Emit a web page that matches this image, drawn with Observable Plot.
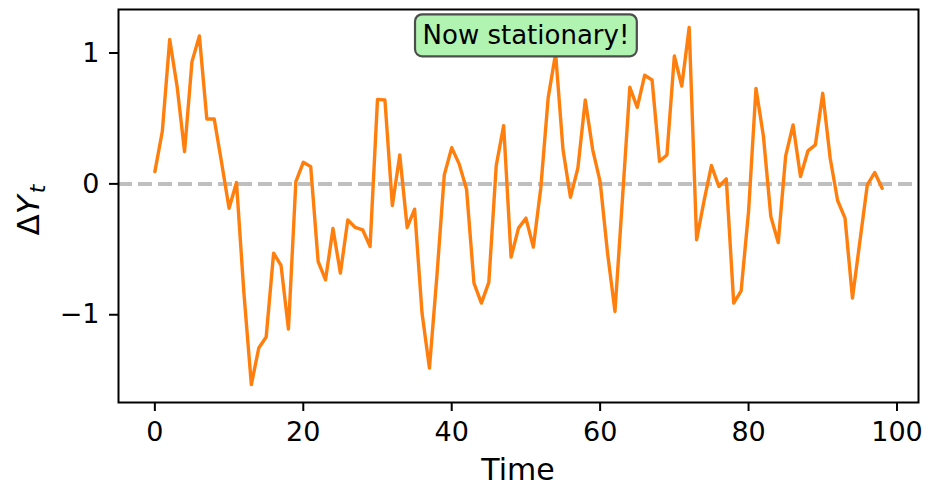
<!DOCTYPE html>
<html><head><meta charset="utf-8">
<script src="https://cdn.jsdelivr.net/npm/d3@7"></script>
<script src="https://cdn.jsdelivr.net/npm/@observablehq/plot@0.6"></script>
<style>body{margin:0;background:#fff;}</style>
</head><body><div id="chart"></div>
<script>
const values = [0.094,0.40,1.104,0.743,0.247,0.934,1.13,0.496,0.496,0.16,
-0.186,0.01,-0.835,-1.534,-1.254,-1.17,-0.529,-0.623,-1.109,0.018,
0.165,0.132,-0.593,-0.733,-0.341,-0.682,-0.275,-0.333,-0.351,-0.478,
0.646,0.641,-0.165,0.221,-0.333,-0.193,-0.987,-1.407,-0.707,0.069,
0.277,0.153,-0.041,-0.758,-0.911,-0.753,0.14,0.445,-0.56,-0.338,
-0.262,-0.483,-0.033,0.659,0.997,0.26,-0.102,0.12,0.641,0.26,
0.018,-0.529,-0.975,-0.12,0.738,0.585,0.83,0.794,0.173,0.221,
0.977,0.748,1.196,-0.427,-0.13,0.14,-0.02,0.038,-0.911,-0.817,
-0.211,0.730,0.366,-0.249,-0.448,0.214,0.45,0.056,0.252,0.298,
0.692,0.196,-0.127,-0.262,-0.873,-0.44,-0.008,0.087,-0.033];
const time = values.map((_, i) => i);
const xTicks = [0, 20, 40, 60, 80, 100];
const yTicks = [-1, 0, 1];
const annotationText = "Now stationary!";
const annotationX = 50;
const annotationY = 1.13;
const xLabel = "Time";

const data = time.map((t, i) => ({t, v: values[i]}));
const ye = d3.extent(values), yp = (ye[1] - ye[0]) * 0.05;
const xe = d3.extent(time), xp = (xe[1] - xe[0]) * 0.05;

const chart = Plot.plot({
  width: 928, height: 487,
  marginLeft: 118, marginRight: 10, marginTop: 9, marginBottom: 85,
  style: {fontFamily: "DejaVu Sans", background: "white", overflow: "visible"},
  x: {domain: [xe[0] - xp, xe[1] + xp]},
  y: {domain: [ye[0] - yp, ye[1] + yp]},
  marks: [
    Plot.ruleY([0], {stroke: "#bfbfbf", strokeWidth: 4, strokeDasharray: "14,6"}),
    Plot.line(data, {x: "t", y: "v", stroke: "#ff7f0e", strokeWidth: 3.4, strokeLinejoin: "round"}),
    Plot.axisX({ticks: xTicks, tickFormat: "~f", tickSize: 9, tickPadding: 10, fontSize: 27, strokeWidth: 2, label: null}),
    Plot.axisY({ticks: yTicks, tickFormat: "~f", tickSize: 9, tickPadding: 10, fontSize: 27, strokeWidth: 2, label: null}),
    Plot.frame({stroke: "black", strokeWidth: 2}),
    Plot.text([{x: annotationX, y: annotationY, label: annotationText}],
      {x: "x", y: "y", text: "label", fontSize: 26, fill: "black", lineAnchor: "middle"})
  ]
});
document.getElementById("chart").appendChild(chart);

const svg = d3.select(chart);
// annotation box
const tg = svg.selectAll('g[aria-label="text"]').filter(function(){ return d3.select(this).text() === annotationText; });
const tn = tg.select("text").node();
const sr = chart.getBoundingClientRect();
const br = tn.getBoundingClientRect();
const px = 7.5, py = 6;
svg.insert("rect", () => tg.node())
  .attr("x", br.left - sr.left - px)
  .attr("y", br.top - sr.top - py)
  .attr("width", br.width + 2 * px)
  .attr("height", br.height + 2 * py)
  .attr("rx", 7).attr("ry", 7)
  .attr("fill", "#b1f3b1")
  .attr("stroke", "#4d4d4d")
  .attr("stroke-width", 2.2);

// x label
svg.append("text").attr("x", 518).attr("y", 480).attr("text-anchor", "middle")
  .attr("font-family", "DejaVu Sans").attr("font-size", 30).attr("fill", "black").text(xLabel);
// y label
const yl = svg.append("text").attr("transform", "translate(39,210) rotate(-90)")
  .attr("text-anchor", "middle").attr("font-family", "DejaVu Sans").attr("font-size", 31).attr("fill", "black");
yl.append("tspan").text("Δ");
yl.append("tspan").attr("font-style", "italic").text("Y");
yl.append("tspan").attr("font-style", "italic").attr("font-size", 22).attr("dy", 6).attr("dx", 2).text("t");
</script>
</body></html>
